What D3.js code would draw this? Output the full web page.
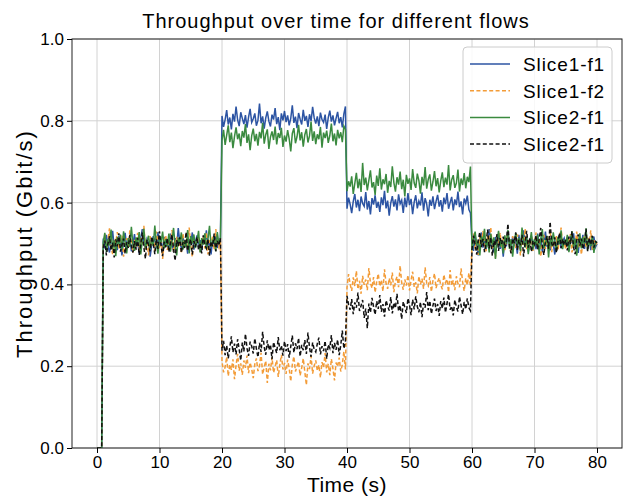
<!DOCTYPE html>
<html>
<head>
<meta charset="UTF-8">
<title>Throughput over time</title>
<script src="https://cdn.jsdelivr.net/npm/d3@7"></script>
<style>
body { margin: 0; background: #fff; }
text { font-family: "Liberation Sans", Arial, sans-serif; fill: #000; }
.axis path, .axis line { stroke: #000; }
</style>
</head>
<body>
<div id="chart"></div>
<script>
// sampling step of the measurements (s), first sample at t = 0
var step = 0.25;

var seriesNames = ['Slice1-f1', 'Slice1-f2', 'Slice2-f1', 'Slice2-f1'];
var xTicks = [0, 10, 20, 30, 40, 50, 60, 70, 80];
var yTicks = [0, 0.2, 0.4, 0.6, 0.8, 1.0];

// Throughput (Gbit/s), one value per step
var slice1f1 = [0,0,0,0,
.512,.488,.521,.495,.478,.503,.531,.492,.507,.484,.519,.498,.471,.509,.526,.493,.502,.515,.481,.497,
.523,.490,.506,.476,.514,.535,.499,.487,.511,.502,.468,.495,.518,.507,.489,.528,.493,.505,.482,.516,
.497,.509,.486,.524,.501,.479,.513,.494,.538,.503,.488,.517,.492,.506,.475,.511,.499,.527,.485,.504,
.520,.491,.508,.483,.515,.498,.532,.487,.502,.473,.512,.496,.523,.489,.507,.514,
.812,.785,.803,.826,.791,.808,.779,.817,.798,.835,.802,.787,.821,.806,.792,.814,.783,.809,.829,.796,
.805,.818,.788,.801,.842,.794,.811,.781,.807,.823,.799,.786,.815,.803,.831,.792,.809,.777,.818,.801,
.824,.797,.813,.789,.806,.838,.795,.810,.782,.819,.804,.791,.827,.800,.812,.785,.816,.799,.834,.807,
.793,.811,.787,.820,.803,.796,.815,.780,.808,.825,.798,.813,.789,.806,.822,.794,.809,.784,.817,.835,
.585,.612,.596,.574,.603,.621,.588,.607,.579,.615,.598,.591,.626,.583,.604,.571,.611,.595,.618,.587,
.602,.577,.613,.594,.629,.586,.605,.568,.599,.616,.590,.608,.581,.620,.597,.606,.575,.612,.589,.623,
.594,.609,.572,.601,.618,.586,.604,.593,.625,.580,.611,.597,.566,.607,.592,.615,.584,.603,.619,.590,
.606,.578,.612,.596,.623,.585,.600,.614,.581,.608,.594,.627,.589,.603,.571,.610,.598,.617,.583,.575,
.505,.482,.519,.496,.471,.508,.527,.490,.513,.486,.501,.535,.494,.509,.478,.516,.499,.522,.487,.504,
.468,.511,.493,.526,.502,.484,.517,.497,.508,.475,.521,.489,.506,.532,.495,.513,.480,.500,.518,.491,
.509,.486,.524,.498,.514,.479,.503,.529,.492,.507,.483,.516,.500,.473,.511,.496,.520,.488,.505,.513,
.494,.510,.482,.518,.501,.525,.489,.506,.477,.515,.498,.521,.487,.509,.495,.512,.484,.503,.517,.491,.499];

var slice1f2 = [0,0,0,0,
.495,.523,.481,.508,.537,.492,.474,.511,.502,.528,.486,.505,.519,.468,.497,.513,.489,.532,.501,.478,
.509,.492,.526,.483,.514,.498,.543,.487,.506,.471,.518,.495,.509,.482,.529,.500,.488,.515,.462,.503,
.520,.484,.511,.497,.533,.479,.502,.516,.490,.507,.476,.524,.493,.510,.485,.539,.498,.467,.512,.494,
.506,.521,.480,.499,.515,.488,.527,.473,.508,.496,.518,.484,.535,.501,.490,.512,
.212,.185,.198,.223,.176,.204,.191,.217,.168,.202,.230,.189,.207,.179,.214,.196,.226,.183,.209,.193,
.171,.205,.219,.188,.201,.233,.180,.197,.213,.159,.206,.190,.222,.184,.199,.215,.174,.203,.228,.192,
.208,.181,.216,.195,.163,.204,.224,.187,.200,.211,.177,.196,.219,.186,.154,.207,.193,.225,.182,.201,
.214,.189,.203,.172,.210,.197,.232,.185,.206,.178,.218,.194,.165,.209,.199,.221,.187,.204,.236,.192,
.392,.425,.401,.384,.417,.396,.433,.388,.409,.377,.421,.399,.412,.386,.440,.403,.391,.418,.380,.407,
.426,.395,.411,.383,.437,.402,.389,.415,.398,.429,.381,.408,.419,.393,.446,.404,.387,.412,.397,.423,
.385,.410,.431,.394,.405,.378,.420,.400,.414,.389,.442,.403,.396,.418,.382,.409,.427,.391,.406,.416,
.399,.388,.424,.404,.413,.381,.435,.397,.410,.386,.420,.402,.393,.439,.406,.384,.415,.398,.428,.395,
.498,.524,.486,.509,.472,.515,.493,.531,.502,.481,.519,.497,.540,.488,.507,.465,.513,.501,.526,.490,
.512,.484,.505,.530,.495,.477,.518,.503,.489,.522,.508,.471,.514,.497,.536,.486,.509,.493,.517,.482,
.504,.527,.491,.511,.468,.500,.521,.487,.513,.496,.534,.479,.506,.492,.518,.483,.510,.539,.495,.502,
.486,.516,.499,.523,.478,.507,.494,.529,.488,.511,.473,.505,.520,.490,.514,.498,.532,.484,.508,.496,.503];

var slice2f1 = [0,0,0,0,
.503,.526,.479,.511,.495,.534,.487,.508,.469,.516,.498,.522,.484,.530,.501,.476,.513,.492,.541,.497,
.482,.515,.500,.528,.473,.509,.536,.490,.505,.519,.486,.512,.494,.544,.499,.475,.517,.503,.529,.488,
.511,.493,.524,.480,.507,.538,.496,.471,.514,.502,.527,.485,.509,.491,.533,.476,.518,.500,.522,.489,
.506,.531,.478,.513,.497,.525,.486,.510,.543,.492,.504,.517,.481,.528,.499,.512,
.752,.778,.741,.765,.789,.748,.771,.733,.762,.784,.755,.769,.738,.775,.759,.792,.746,.767,.728,.763,
.781,.750,.768,.739,.773,.757,.795,.744,.766,.779,.731,.760,.774,.753,.786,.742,.770,.758,.783,.736,
.764,.749,.777,.756,.725,.769,.782,.745,.761,.790,.752,.772,.737,.766,.780,.747,.763,.798,.751,.774,
.743,.767,.755,.785,.734,.771,.758,.776,.746,.764,.793,.750,.769,.740,.778,.757,.772,.748,.787,.779,
.628,.652,.639,.664,.621,.647,.673,.635,.658,.626,.697,.643,.661,.630,.655,.679,.637,.650,.619,.666,
.641,.684,.632,.657,.645,.670,.624,.653,.638,.689,.649,.627,.662,.644,.676,.633,.656,.615,.668,.646,
.659,.631,.682,.648,.636,.671,.654,.622,.663,.642,.687,.634,.657,.669,.629,.651,.677,.640,.660,.625,
.653,.674,.638,.661,.644,.692,.630,.656,.667,.636,.648,.681,.627,.659,.643,.672,.635,.663,.650,.688,
.483,.512,.529,.495,.507,.471,.518,.501,.536,.488,.510,.478,.524,.497,.515,.462,.505,.531,.492,.509,
.476,.520,.499,.533,.487,.511,.468,.503,.526,.494,.514,.481,.539,.506,.490,.517,.474,.502,.528,.485,
.511,.496,.522,.473,.508,.535,.489,.500,.519,.466,.513,.493,.527,.504,.481,.516,.498,.532,.486,.509,
.497,.521,.479,.506,.530,.491,.512,.470,.503,.525,.488,.515,.499,.537,.483,.508,.494,.518,.477,.502,.505];

var slice2f1b = [0,0,0,0,
.488,.507,.471,.499,.518,.483,.502,.466,.510,.493,.525,.480,.497,.512,.475,.503,.489,.521,.494,.478,
.506,.485,.514,.472,.498,.527,.490,.463,.509,.496,.481,.517,.502,.474,.511,.487,.530,.495,.469,.504,
.491,.513,.479,.500,.522,.486,.458,.508,.494,.515,.477,.503,.489,.528,.482,.499,.510,.473,.506,.492,
.516,.484,.501,.476,.520,.497,.488,.511,.470,.505,.493,.524,.481,.507,.495,.513,
.238,.262,.227,.251,.219,.246,.273,.234,.255,.229,.266,.241,.214,.258,.236,.279,.244,.225,.260,.249,
.231,.268,.243,.222,.257,.235,.284,.247,.228,.263,.240,.253,.217,.259,.245,.232,.271,.239,.250,.226,
.261,.237,.254,.221,.248,.275,.233,.256,.242,.269,.224,.252,.239,.264,.230,.282,.246,.223,.258,.241,
.235,.255,.270,.229,.249,.237,.262,.218,.253,.244,.276,.232,.257,.240,.265,.227,.251,.287,.243,.262,
.372,.351,.338,.364,.327,.356,.343,.380,.335,.348,.362,.318,.341,.293,.353,.331,.367,.345,.326,.359,
.340,.374,.333,.352,.321,.361,.347,.336,.369,.329,.355,.342,.377,.334,.349,.315,.358,.344,.330,.366,
.350,.325,.363,.339,.371,.346,.332,.357,.320,.354,.343,.381,.337,.360,.328,.348,.365,.335,.352,.323,
.359,.341,.368,.331,.353,.376,.338,.347,.324,.362,.345,.334,.370,.349,.327,.357,.339,.366,.343,.336,
.486,.519,.497,.473,.508,.528,.491,.511,.479,.502,.534,.488,.515,.470,.506,.495,.523,.482,.513,.499,
.517,.489,.505,.548,.493,.476,.512,.501,.527,.484,.509,.496,.521,.468,.503,.531,.490,.514,.480,.507,
.498,.520,.485,.510,.538,.494,.472,.506,.518,.487,.553,.500,.492,.515,.477,.504,.526,.489,.511,.496,
.509,.483,.517,.499,.530,.491,.474,.508,.522,.495,.512,.486,.503,.536,.481,.514,.497,.519,.490,.505,.501];

var W = 628, H = 496;
var margin = {top: 39, right: 6, bottom: 48, left: 72};
var width = W - margin.left - margin.right,
    height = H - margin.top - margin.bottom;

var styles = [
    {color: '#2c54a3', dash: null},
    {color: '#f39c38', dash: '4,2.4'},
    {color: '#3a8a3f', dash: null},
    {color: '#111111', dash: '4,2.4'}
];

var series = [slice1f1, slice1f2, slice2f1, slice2f1b].map(function(vals, k){
    return {
        name: seriesNames[k],
        style: styles[k],
        values: vals.map(function(v, i){ return {t: i * step, v: v}; })
    };
});

var svg = d3.select('#chart').append('svg')
    .attr('width', W)
    .attr('height', H);

var xScale = d3.scaleLinear().domain([-4, 84]).range([0, width]);
var yScale = d3.scaleLinear().domain([0, 1]).range([height, 0]);

var g = svg.append('g')
    .attr('transform', 'translate(' + margin.left + ',' + margin.top + ')');

// grid
g.append('g').selectAll('line')
    .data(xTicks).enter().append('line')
    .attr('x1', function(d){ return xScale(d); })
    .attr('x2', function(d){ return xScale(d); })
    .attr('y1', 0).attr('y2', height)
    .attr('stroke', '#d2d2d2').attr('stroke-width', 1);
g.append('g').selectAll('line')
    .data(yTicks).enter().append('line')
    .attr('y1', function(d){ return yScale(d); })
    .attr('y2', function(d){ return yScale(d); })
    .attr('x1', 0).attr('x2', width)
    .attr('stroke', '#d2d2d2').attr('stroke-width', 1);

var line = d3.line()
    .x(function(d){ return xScale(d.t); })
    .y(function(d){ return yScale(d.v); });

g.append('defs').append('clipPath').attr('id', 'clip')
    .append('rect').attr('width', width).attr('height', height);

g.append('g').attr('clip-path', 'url(#clip)')
    .selectAll('path')
    .data(series).enter().append('path')
    .attr('d', function(d){ return line(d.values); })
    .attr('fill', 'none')
    .attr('stroke', function(d){ return d.style.color; })
    .attr('stroke-width', 1.5)
    .attr('stroke-dasharray', function(d){ return d.style.dash; });

// frame
g.append('rect')
    .attr('width', width).attr('height', height)
    .attr('fill', 'none').attr('stroke', '#222').attr('stroke-width', 1);

var xAxis = d3.axisBottom(xScale).tickValues(xTicks).tickSize(5).tickPadding(3).tickSizeOuter(0);
var yAxis = d3.axisLeft(yScale).tickValues(yTicks).tickSize(5).tickPadding(3).tickSizeOuter(0)
    .tickFormat(d3.format('.1f'));

g.append('g').attr('class', 'x axis')
    .attr('transform', 'translate(0,' + height + ')')
    .call(xAxis)
    .call(function(s){ s.select('.domain').remove(); })
    .selectAll('text').style('font-size', '17px');

g.append('g').attr('class', 'y axis')
    .call(yAxis)
    .call(function(s){ s.select('.domain').remove(); })
    .selectAll('text').style('font-size', '17px');

// titles
svg.append('text')
    .attr('x', 336).attr('y', 28)
    .attr('text-anchor', 'middle')
    .style('font-size', '20px')
    .style('letter-spacing', '1px')
    .text('Throughput over time for different flows');

svg.append('text')
    .attr('x', margin.left + width / 2).attr('y', 492)
    .attr('text-anchor', 'middle')
    .style('font-size', '21px')
    .style('letter-spacing', '0.5px')
    .text('Time (s)');

svg.append('text')
    .attr('transform', 'translate(32,' + (margin.top + height / 2) + ') rotate(-90)')
    .attr('text-anchor', 'middle')
    .style('font-size', '22px')
    .style('letter-spacing', '2px')
    .text('Throughput (Gbit/s)');

// legend
var legend = svg.append('g').attr('transform', 'translate(463,47)');
legend.append('rect')
    .attr('width', 149).attr('height', 116).attr('rx', 4)
    .attr('fill', 'rgba(255,255,255,0.85)')
    .attr('stroke', '#cccccc');

var item = legend.selectAll('.item')
    .data(series).enter().append('g')
    .attr('transform', function(d, i){ return 'translate(0,' + (17 + i * 26.7) + ')'; });
item.append('line')
    .attr('x1', 7).attr('x2', 47)
    .attr('stroke', function(d){ return d.style.color; })
    .attr('stroke-width', 1.5)
    .attr('stroke-dasharray', function(d){ return d.style.dash; });
item.append('text')
    .attr('x', 60).attr('dy', '0.36em')
    .style('font-size', '19px')
    .style('letter-spacing', '0.9px')
    .text(function(d){ return d.name; });
</script>
</body>
</html>
